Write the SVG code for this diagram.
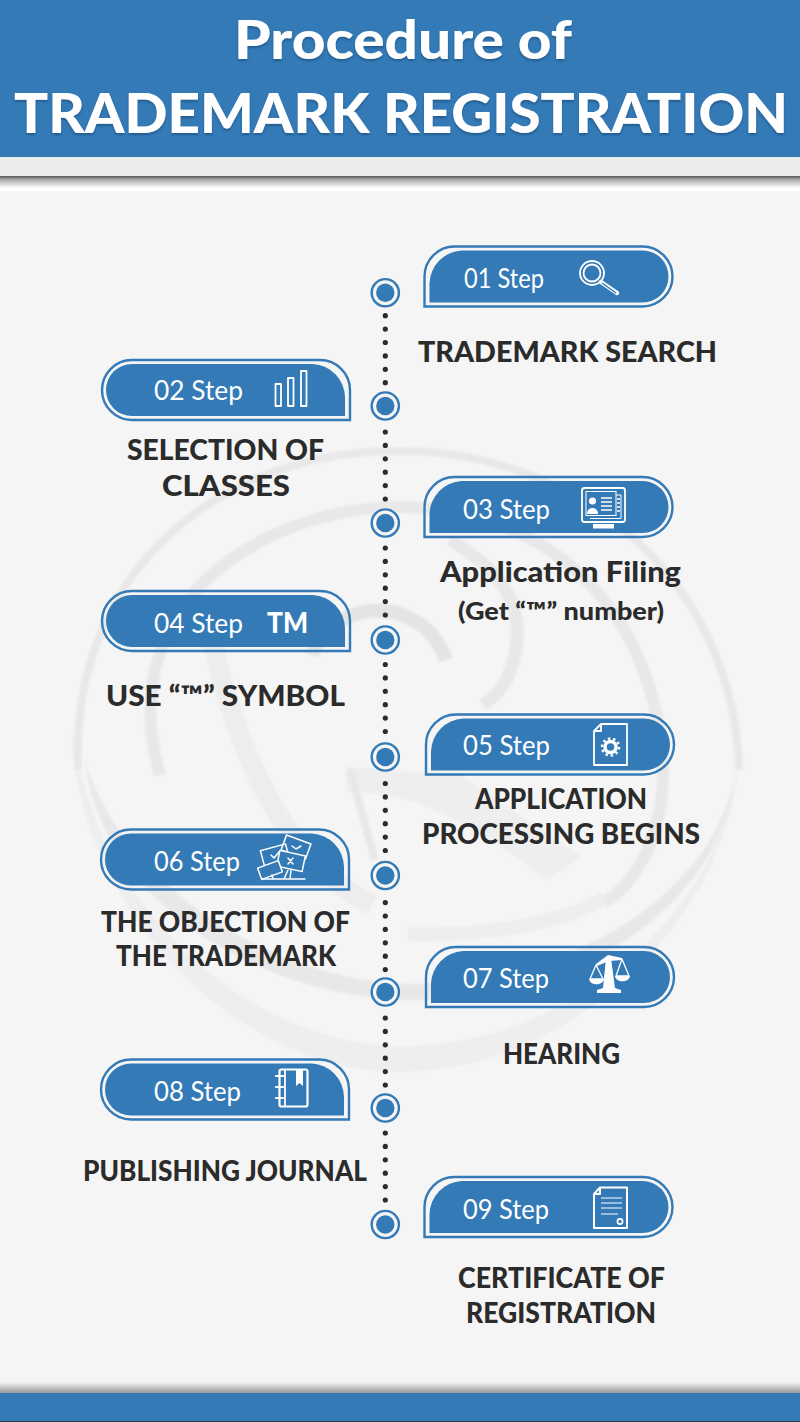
<svg xmlns="http://www.w3.org/2000/svg" width="800" height="1422" viewBox="0 0 800 1422">
<style>
.lb{font-family:"Lato","Liberation Sans",sans-serif;font-weight:900;font-size:28px;fill:#2b2b2b}
.st{font-family:"Lato","Liberation Sans",sans-serif;font-weight:400;font-size:27px;fill:#fff}
.tt{font-family:"Lato","Liberation Sans",sans-serif;font-weight:900;fill:#fff;filter:url(#ts)}
.ol{fill:none;stroke:#337ab7;stroke-width:2.4}
.fl{fill:#337ab7}
.ic{fill:none;stroke:#fff;stroke-width:1.8;stroke-linejoin:round;stroke-linecap:round}
.if{fill:#fff;stroke:none}
.wm{fill:none;stroke:#e8e8e8}
.wf{fill:#eeeeee}
.dots{fill:none;stroke:#2b2b2b;stroke-width:5.2;stroke-linecap:round;stroke-dasharray:0 13.4}
.ro{fill:#f5f5f5;stroke:#337ab7;stroke-width:2.4}
</style>
<defs>
<filter id="ts" x="-5%" y="-10%" width="110%" height="125%"><feDropShadow dx="0" dy="2" stdDeviation="0.8" flood-color="#1d4f7d" flood-opacity="0.7"/></filter>
<filter id="wb"><feGaussianBlur stdDeviation="1.2"/></filter>
<linearGradient id="sh" x1="0" y1="0" x2="0" y2="1"><stop offset="0" stop-color="#555"/><stop offset="0.3" stop-color="#aaa"/><stop offset="1" stop-color="#fff"/></linearGradient>
<linearGradient id="sb" x1="0" y1="0" x2="0" y2="1"><stop offset="0" stop-color="#f5f5f5"/><stop offset="1" stop-color="#999"/></linearGradient>
<g id="pr"><path class="ol" d="M1,61V31A30,30 0 0 1 31,1H219A30,30 0 0 1 219,61Z"/><path class="fl" d="M6,57V38A34,34 0 0 1 38,5H219A26,26 0 0 1 219,57Z"/></g>
<g id="pl"><path class="ol" d="M250,61V31A30,30 0 0 0 220,1H32A30,30 0 0 0 32,61Z"/><path class="fl" d="M245,57V38A34,34 0 0 0 213,5H32A26,26 0 0 0 32,57Z"/></g>
</defs>

<rect width="800" height="1422" fill="#f5f5f5"/>
<g id="watermark" filter="url(#wb)">
<path class="wf" d="M72,730C75,900 230,1072 400,1072C560,1072 735,930 741,740C730,920 560,1048 400,1046C240,1043 95,900 72,730Z"/>
<path class="wm" stroke-width="8" d="M78,770C70,570 220,450 400,451C590,452 735,590 739,770"/>
<path d="M85,760C100,900 260,1000 417,1000C560,1000 720,920 736,770C715,900 560,984 417,984C270,984 120,880 85,760Z" fill="#e8e8e8"/>
<path class="wm" stroke-width="12" d="M160,775C135,690 160,610 230,560C280,525 340,507 400,507C530,507 650,590 663,762C665,830 640,880 604,903"/>
<path class="wm" stroke-width="14" style="stroke:#eeeeee" d="M408,934C480,936 560,925 604,898"/>
<path class="wm" stroke-width="13" d="M450,540C500,570 520,600 517,640C514,670 505,690 483,705"/>
<path class="wm" stroke-width="14" style="stroke:#e4e4e4" d="M312,655C330,600 420,590 446,660"/>
<path class="wm" stroke-width="20" style="stroke:#ededed" d="M212,640C240,760 285,860 372,905"/>
<path class="wf" d="M346,767L460,775L582,857L547,880C480,830 420,790 346,792Z"/>
<path class="wm" stroke-width="8" d="M350,770L375,860"/>
</g>

<g id="header">
<rect width="800" height="157" fill="#337ab7"/>
<rect y="157" width="800" height="19" fill="#ececec"/>
<rect y="176" width="800" height="12" fill="url(#sh)"/>
<rect y="188" width="800" height="3" fill="#fff"/>
<text class="tt" x="234" y="59" font-size="54" textLength="338" lengthAdjust="spacingAndGlyphs">Procedure of</text>
<text class="tt" x="14" y="133" font-size="56" textLength="774" lengthAdjust="spacingAndGlyphs">TRADEMARK REGISTRATION</text>
</g>

<g id="footer">
<rect y="1382" width="800" height="11" fill="url(#sb)"/>
<rect y="1393" width="800" height="28" fill="#337ab7"/>
<rect y="1421" width="800" height="1" fill="#2d3e4f"/>
</g>

<g id="connectors">
<path class="dots" d="M385.3,315.7V386"/>
<path class="dots" d="M385.3,432V503"/>
<path class="dots" d="M385.3,548V619"/>
<path class="dots" d="M385.3,664.5V735"/>
<path class="dots" d="M385.3,783.5V854"/>
<path class="dots" d="M385.3,902.6V973"/>
<path class="dots" d="M385.3,1018V1088"/>
<path class="dots" d="M385.3,1133V1203"/>
</g>

<g id="dot-1"><circle class="ro" cx="385.3" cy="292.7" r="13.6"/><circle class="fl" cx="385.3" cy="292.7" r="9.2"/></g>
<g id="dot-2"><circle class="ro" cx="385.3" cy="406" r="13.6"/><circle class="fl" cx="385.3" cy="406" r="9.2"/></g>
<g id="dot-3"><circle class="ro" cx="385.3" cy="523" r="13.6"/><circle class="fl" cx="385.3" cy="523" r="9.2"/></g>
<g id="dot-4"><circle class="ro" cx="385.3" cy="640" r="13.6"/><circle class="fl" cx="385.3" cy="640" r="9.2"/></g>
<g id="dot-5"><circle class="ro" cx="385.3" cy="757" r="13.6"/><circle class="fl" cx="385.3" cy="757" r="9.2"/></g>
<g id="dot-6"><circle class="ro" cx="385.3" cy="875.5" r="13.6"/><circle class="fl" cx="385.3" cy="875.5" r="9.2"/></g>
<g id="dot-7"><circle class="ro" cx="385.3" cy="992" r="13.6"/><circle class="fl" cx="385.3" cy="992" r="9.2"/></g>
<g id="dot-8"><circle class="ro" cx="385.3" cy="1108" r="13.6"/><circle class="fl" cx="385.3" cy="1108" r="9.2"/></g>
<g id="dot-9"><circle class="ro" cx="385.3" cy="1224.5" r="13.6"/><circle class="fl" cx="385.3" cy="1224.5" r="9.2"/></g>

<g id="step-01">
<use href="#pr" x="423.5" y="245.5"/>
<text class="st" x="464" y="287.5" textLength="80" lengthAdjust="spacingAndGlyphs">01 Step</text>
<circle class="ic" cx="592" cy="273" r="12"/><circle class="ic" cx="592" cy="273" r="8.5"/>
<path class="ic" style="stroke-width:4.5" d="M601,282L617,293"/><path d="M602,283L616,293" stroke="#337ab7" stroke-width="1.5" fill="none"/>
<text class="lb" x="418" y="362" textLength="299" lengthAdjust="spacingAndGlyphs">TRADEMARK SEARCH</text>
</g>

<g id="step-02">
<use href="#pl" x="100" y="359"/>
<text class="st" x="154" y="400" textLength="89" lengthAdjust="spacingAndGlyphs">02 Step</text>
<rect class="ic" x="275.5" y="384" width="5.5" height="22"/><rect class="ic" x="288" y="378" width="5.5" height="28"/><rect class="ic" x="301" y="371" width="5.5" height="35"/>
<text class="lb" x="127" y="460" textLength="197" lengthAdjust="spacingAndGlyphs">SELECTION OF</text>
<text class="lb" x="162" y="496" textLength="128" lengthAdjust="spacingAndGlyphs">CLASSES</text>
</g>

<g id="step-03">
<use href="#pr" x="423.5" y="476"/>
<text class="st" x="463" y="519" textLength="87" lengthAdjust="spacingAndGlyphs">03 Step</text>
<rect class="ic" x="582" y="488" width="43" height="34" rx="2.5"/>
<rect x="586" y="491.5" width="30" height="24" fill="none" stroke="#fff" stroke-width="1"/>
<path d="M616,495H621V518.5H590" fill="none" stroke="#fff" stroke-width="1"/>
<path class="if" d="M593,524H614V528.5H593Z"/>
<circle class="if" cx="592.5" cy="501" r="3.6"/><path class="if" d="M587,514C587,506 598,506 598,514Z"/>
<path d="M601,498H612M601,502H612M601,506H612M601,510H612M617,499H620M617,503H620M617,507H620M617,511H620" stroke="#fff" stroke-width="1.6" fill="none"/>
<text class="lb" x="440" y="582" textLength="241" lengthAdjust="spacingAndGlyphs">Application Filing</text>
<text class="lb" x="458" y="620" style="font-size:25px" textLength="206" lengthAdjust="spacingAndGlyphs">(Get “™” number)</text>
</g>

<g id="step-04">
<use href="#pl" x="100" y="590"/>
<text class="st" x="154" y="633" textLength="89" lengthAdjust="spacingAndGlyphs">04 Step</text>
<text x="267" y="633" font-family="Lato,'Liberation Sans',sans-serif" font-weight="900" font-size="29" fill="#fff" textLength="41" lengthAdjust="spacingAndGlyphs">TM</text>
<text class="lb" x="106" y="706" textLength="239" lengthAdjust="spacingAndGlyphs">USE “™” SYMBOL</text>
</g>

<g id="step-05">
<use href="#pr" x="425" y="713.5"/>
<text class="st" x="463" y="755" textLength="87" lengthAdjust="spacingAndGlyphs">05 Step</text>
<path class="ic" d="M601,724H627V765H594V731ZM601,724V731H594"/>
<circle class="ic" cx="610.5" cy="747" r="5.5" style="stroke-width:3.5"/><circle class="ic" cx="610.5" cy="747" r="8.5" style="stroke-width:2.5;stroke-dasharray:2.5 2.8;stroke-linecap:butt"/>
<text class="lb" x="475" y="809" textLength="172" lengthAdjust="spacingAndGlyphs">APPLICATION</text>
<text class="lb" x="422" y="844" textLength="278" lengthAdjust="spacingAndGlyphs">PROCESSING BEGINS</text>
</g>

<g id="step-06">
<use href="#pl" x="99" y="828.5"/>
<text class="st" x="154" y="871" textLength="86" lengthAdjust="spacingAndGlyphs">06 Step</text>
<g class="ic" style="stroke-width:1.5">
<rect x="-13" y="-8" width="26" height="16" transform="translate(275,855) rotate(-15)"/>
<rect x="-13" y="-8" width="26" height="16" transform="translate(296,847) rotate(20)"/>
<rect x="-13" y="-8" width="26" height="16" transform="translate(291,861) rotate(12)" style="fill:#337ab7"/>
<rect x="-11" y="-6" width="22" height="12" transform="translate(270,870) rotate(-20)" style="fill:#337ab7"/>
<path d="M262,879H305M284,879L288,870M290,879L291,870M273,879L272,875"/>
<path d="M271,855L274,858L279,852M292,846L296,849L301,846M288,858L293,864M293,858L288,864"/>
</g>
<text class="lb" x="101" y="932" textLength="249" lengthAdjust="spacingAndGlyphs">THE OBJECTION OF</text>
<text class="lb" x="116" y="966" textLength="220" lengthAdjust="spacingAndGlyphs">THE TRADEMARK</text>
</g>

<g id="step-07">
<use href="#pr" x="425" y="946"/>
<text class="st" x="463" y="988" textLength="86" lengthAdjust="spacingAndGlyphs">07 Step</text>
<path class="if" d="M606,958L603,988L597,990V993H621V990L615,988L611,958Z"/>
<path class="if" d="M596,964L608,955L622,958L622,960L609,961L597,966Z"/>
<path class="ic" d="M596,965L590,979H603ZM622,959L616,976H629Z" style="stroke-width:1.3"/>
<path class="if" d="M589,979H604C603,986 590,986 589,979ZM615,976H630C629,983 616,983 615,976Z"/>
<text class="lb" x="503" y="1064" textLength="117" lengthAdjust="spacingAndGlyphs">HEARING</text>
</g>

<g id="step-08">
<use href="#pl" x="99" y="1058.5"/>
<text class="st" x="154" y="1101" textLength="87" lengthAdjust="spacingAndGlyphs">08 Step</text>
<rect x="279.5" y="1069.5" width="28" height="37" rx="2" class="ic" style="stroke-width:2.2"/>
<path class="ic" d="M285,1070V1106"/>
<path class="if" d="M296,1069H303V1086L299.5,1083L296,1086Z"/>
<path class="ic" d="M276,1076H283M276,1087H283M276,1098H283" style="stroke-width:2.2"/>
<text class="lb" x="83" y="1181" textLength="284" lengthAdjust="spacingAndGlyphs">PUBLISHING JOURNAL</text>
</g>

<g id="step-09">
<use href="#pr" x="423.5" y="1176"/>
<text class="st" x="463" y="1219" textLength="86" lengthAdjust="spacingAndGlyphs">09 Step</text>
<path class="ic" d="M600,1187.5H627V1228H594V1194ZM600,1187.5V1194H594" style="stroke-width:2"/>
<path d="M601,1198H622M601,1203H622M601,1208H622M601,1214H618" stroke="#fff" stroke-width="1" fill="none"/>
<circle cx="620" cy="1221.5" r="2.6" fill="none" stroke="#fff" stroke-width="1.6"/>
<text class="lb" x="458" y="1288" textLength="207" lengthAdjust="spacingAndGlyphs">CERTIFICATE OF</text>
<text class="lb" x="466" y="1323" textLength="190" lengthAdjust="spacingAndGlyphs">REGISTRATION</text>
</g>
</svg>
